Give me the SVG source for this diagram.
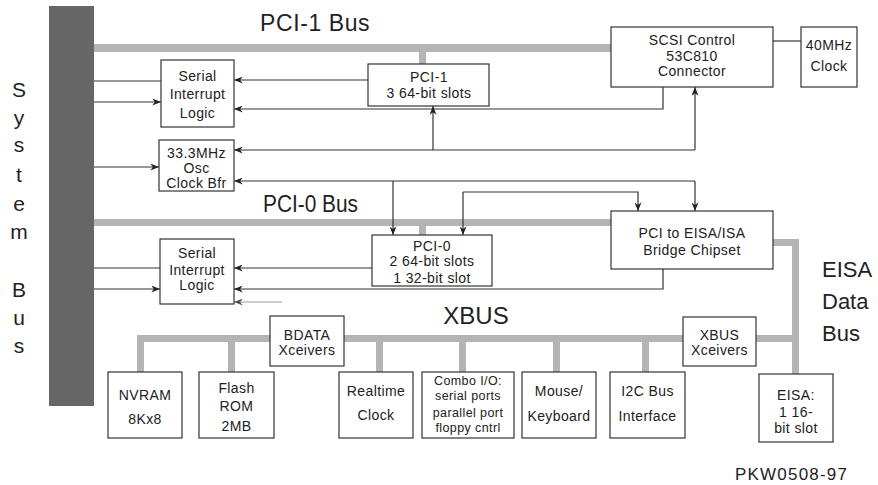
<svg xmlns="http://www.w3.org/2000/svg" width="878" height="485" viewBox="0 0 878 485">
<style>
.box{fill:#fff;stroke:#333;stroke-width:1.2}
.t{font-family:"Liberation Sans",Arial,sans-serif;font-size:14px;fill:#222;text-anchor:middle;letter-spacing:0.4px}
.ts{font-size:12.5px}
.big{font-family:"Liberation Sans",Arial,sans-serif;fill:#222}
.bus{fill:#b4b4b4}
.ln{fill:none;stroke:#333;stroke-width:1.2}
.la{fill:none;stroke:#333;stroke-width:1.2;marker-end:url(#ah)}
</style>
<defs>
<marker id="ah" viewBox="0 0 10 8" markerWidth="9" markerHeight="7" refX="10" refY="4" orient="auto" markerUnits="userSpaceOnUse">
<path d="M0,0 L10,4 L0,8 L3,4 z" fill="#222"/>
</marker>
<marker id="ahg" viewBox="0 0 10 8" markerWidth="9" markerHeight="7" refX="10" refY="4" orient="auto" markerUnits="userSpaceOnUse">
<path d="M0,0 L10,4 L0,8 L3,4 z" fill="#555"/>
</marker>
</defs>
<rect width="878" height="485" fill="#fff"/>

<g id="system-bus">
<rect x="49" y="6" width="45" height="400" fill="#666"/>
<g class="big" font-size="21" text-anchor="middle">
<text x="19" y="97">S</text><text x="19" y="125">y</text><text x="19" y="152">s</text>
<text x="19" y="182">t</text><text x="19" y="211">e</text><text x="19" y="239">m</text>
<text x="19" y="297">B</text><text x="19" y="325">u</text><text x="19" y="353">s</text>
</g>
</g>

<g id="buses">
<rect class="bus" x="94" y="44" width="517" height="8"/>
<rect class="bus" x="419" y="52" width="7" height="12"/>
<rect class="bus" x="94" y="219" width="517" height="7"/>
<rect class="bus" x="419" y="226" width="7" height="9"/>
<rect class="bus" x="773" y="239" width="26" height="7"/>
<rect class="bus" x="792" y="239" width="7" height="135"/>
<rect class="bus" x="137" y="335" width="133" height="7"/>
<rect class="bus" x="137" y="335" width="7" height="37"/>
<rect class="bus" x="228" y="335" width="7" height="37"/>
<rect class="bus" x="344" y="335" width="339" height="7"/>
<rect class="bus" x="376" y="342" width="7" height="30"/>
<rect class="bus" x="459" y="342" width="7" height="30"/>
<rect class="bus" x="553" y="342" width="7" height="30"/>
<rect class="bus" x="642" y="342" width="7" height="30"/>
<rect class="bus" x="756" y="335" width="40" height="7"/>
<text class="big" x="260" y="31" font-size="23" letter-spacing="0.6">PCI-1 Bus</text>
<text class="big" x="263" y="212" font-size="23" textLength="95" lengthAdjust="spacingAndGlyphs">PCI-0 Bus</text>
<text class="big" x="476" y="324" font-size="24" text-anchor="middle">XBUS</text>
<text class="big" x="822" y="277" font-size="22">EISA</text>
<text class="big" x="822" y="309" font-size="22">Data</text>
<text class="big" x="822" y="341" font-size="22">Bus</text>
</g>

<g id="connectors">
<path class="ln" d="M161,81 H94"/>
<path class="la" d="M94,102 H161"/>
<path class="la" d="M368,80 H234"/>
<path class="la" d="M663,87 V109 H234"/>
<path class="la" d="M695,150 H234"/>
<path class="la" d="M433,150 V106"/>
<path class="la" d="M695,150 V87"/>
<path class="la" d="M94,167 H159"/>
<path class="la" d="M695,181 H234"/>
<path class="la" d="M393,181 V235"/>
<path class="la" d="M695,181 V211"/>
<path class="la" d="M463,192 V235"/>
<path class="la" d="M463,192 H638 V211"/>
<path class="ln" d="M160,268 H94"/>
<path class="la" d="M94,289 H160"/>
<path class="la" d="M372,268 H234"/>
<path class="la" d="M663,269 V289 H234"/>
<path d="M282,302 H234" fill="none" stroke="#999" stroke-width="1" marker-end="url(#ahg)"/>
<path class="ln" d="M773,41 H801"/>
</g>

<g id="serial1"><rect class="box" x="161" y="60" width="73" height="67"/>
<text class="t" x="197.5" y="81">Serial</text><text class="t" x="197.5" y="99">Interrupt</text><text class="t" x="197.5" y="118">Logic</text></g>

<g id="pci1"><rect class="box" x="368" y="64" width="121" height="42"/>
<text class="t" x="429" y="82">PCI-1</text><text class="t" x="429" y="98">3 64-bit slots</text></g>

<g id="scsi"><rect class="box" x="611" y="27" width="162" height="60"/>
<text class="t" x="692" y="45">SCSI Control</text><text class="t" x="692" y="61">53C810</text><text class="t" x="692" y="76">Connector</text></g>

<g id="clock40"><rect class="box" x="801" y="27" width="56" height="60"/>
<text class="t" x="829" y="50">40MHz</text><text class="t" x="829" y="71">Clock</text></g>

<g id="osc"><rect class="box" x="159" y="140" width="75" height="51"/>
<text class="t" x="196.5" y="158">33.3MHz</text><text class="t" x="196.5" y="173">Osc</text><text class="t" x="196.5" y="188">Clock Bfr</text></g>

<g id="serial2"><rect class="box" x="160" y="239" width="74" height="65"/>
<text class="t" x="197" y="258">Serial</text><text class="t" x="197" y="275">Interrupt</text><text class="t" x="197" y="290">Logic</text></g>

<g id="pci0"><rect class="box" x="372" y="235" width="120" height="51"/>
<text class="t" x="432" y="251">PCI-0</text><text class="t" x="432" y="266">2 64-bit slots</text><text class="t" x="432" y="283">1 32-bit slot</text></g>

<g id="bridge"><rect class="box" x="611" y="211" width="162" height="58"/>
<text class="t" x="692" y="238">PCI to EISA/ISA</text><text class="t" x="692" y="255">Bridge Chipset</text></g>

<g id="bdata"><rect class="box" x="270" y="316" width="74" height="50"/>
<text class="t" x="307" y="340">BDATA</text><text class="t" x="307" y="355">Xceivers</text></g>

<g id="xbusx"><rect class="box" x="683" y="317" width="73" height="49"/>
<text class="t" x="719.5" y="340">XBUS</text><text class="t" x="719.5" y="355">Xceivers</text></g>

<g id="nvram"><rect class="box" x="108" y="372" width="74" height="66"/>
<text class="t" x="145" y="400">NVRAM</text><text class="t" x="145" y="424">8Kx8</text></g>

<g id="flash"><rect class="box" x="199" y="372" width="75" height="66"/>
<text class="t" x="236.5" y="393">Flash</text><text class="t" x="236.5" y="411">ROM</text><text class="t" x="236.5" y="431">2MB</text></g>

<g id="rtc"><rect class="box" x="339" y="372" width="74" height="66"/>
<text class="t" x="376" y="396">Realtime</text><text class="t" x="376" y="420">Clock</text></g>

<g id="combo"><rect class="box" x="422" y="372" width="92" height="66"/>
<text class="t ts" x="468" y="385">Combo I/O:</text><text class="t ts" x="468" y="400">serial ports</text><text class="t ts" x="468" y="417">parallel port</text><text class="t ts" x="468" y="432">floppy cntrl</text></g>

<g id="mouse"><rect class="box" x="522" y="372" width="74" height="66"/>
<text class="t" x="559" y="396">Mouse/</text><text class="t" x="559" y="421">Keyboard</text></g>

<g id="i2c"><rect class="box" x="610" y="372" width="75" height="66"/>
<text class="t" x="647.5" y="396">I2C Bus</text><text class="t" x="647.5" y="421">Interface</text></g>

<g id="eisa"><rect class="box" x="759" y="374" width="74" height="68"/>
<text class="t" x="796" y="400">EISA:</text><text class="t" x="796" y="417">1 16-</text><text class="t" x="796" y="433">bit slot</text></g>

<text class="big" x="735" y="480" font-size="17" letter-spacing="1.2">PKW0508-97</text>
</svg>
